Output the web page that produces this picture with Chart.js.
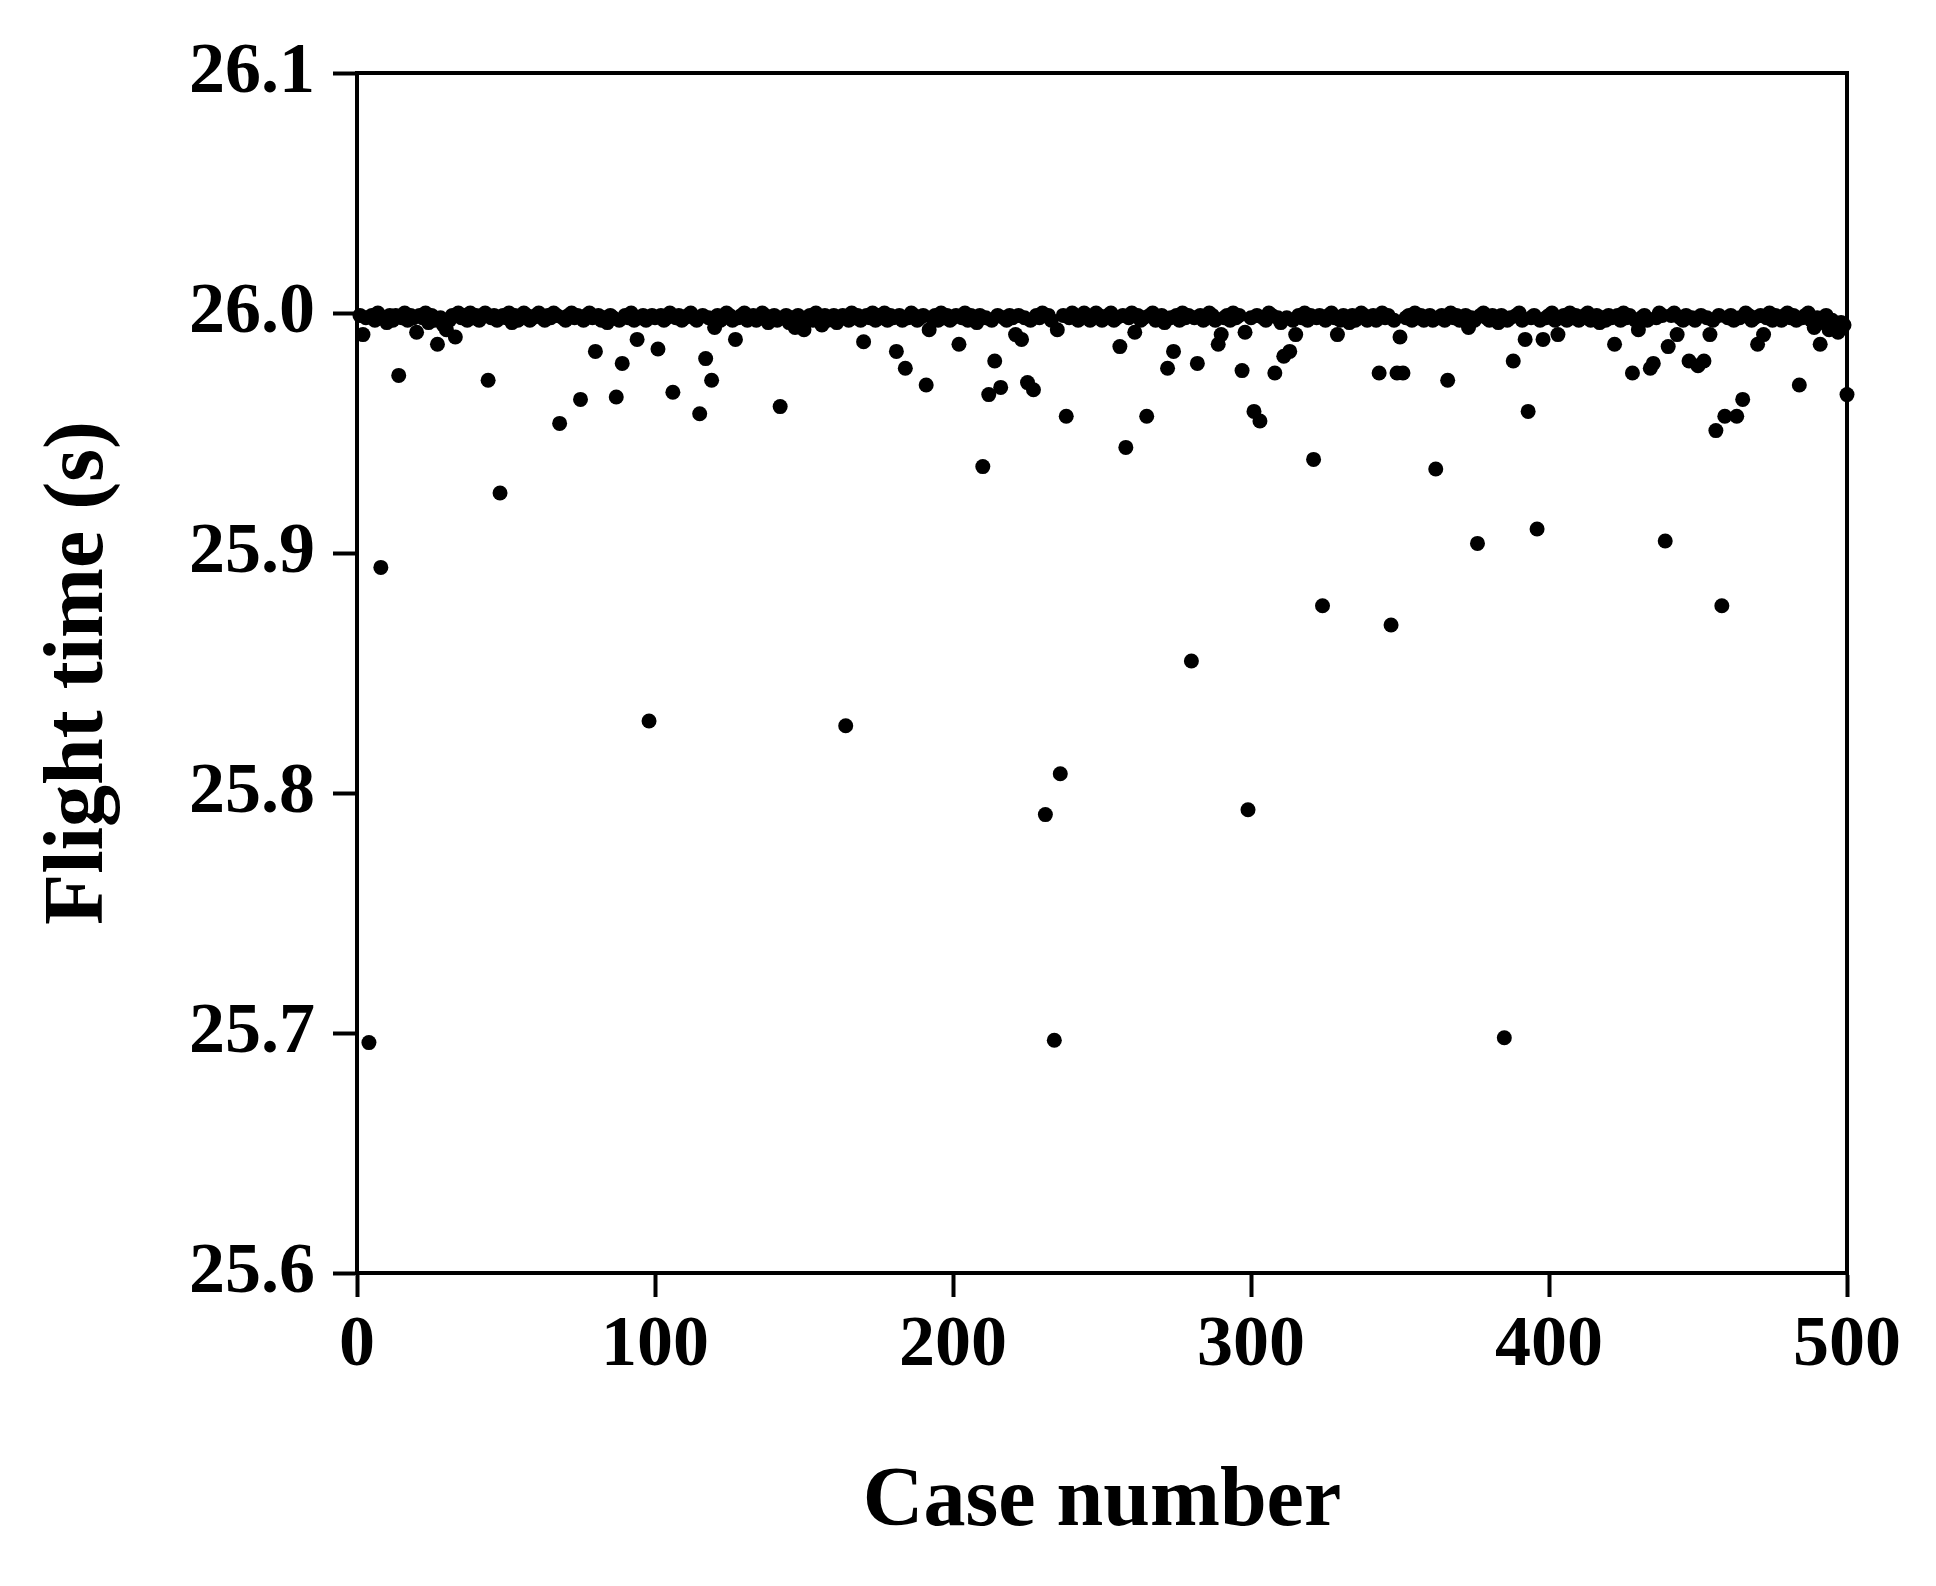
<!DOCTYPE html>
<html>
<head>
<meta charset="utf-8">
<script src="https://cdn.jsdelivr.net/npm/chart.js@4.4.1/dist/chart.umd.min.js"></script>
<style>
  html, body { margin: 0; padding: 0; background: #ffffff; }
  #FlightChart { display: block; }
</style>
</head>
<body>
<canvas id="FlightChart" width="1936" height="1586"></canvas>
<script>
  // flight time of each case, case 1 .. 500 (20 per row)
  const flightTime = [
    25.999, 25.991, 25.998, 25.696, 25.999, 25.997, 26.000, 25.894, 25.998, 25.996, 25.999, 25.997, 25.999, 25.974, 25.998, 26.000, 25.997, 25.999, 25.998, 25.992,
    25.999, 25.998, 26.000, 25.996, 25.999, 25.997, 25.987, 25.998, 25.995, 25.993, 25.997, 25.999, 25.990, 26.000, 25.998, 25.999, 25.997, 26.000, 25.998, 25.999,
    25.997, 25.999, 26.000, 25.972, 25.998, 25.999, 25.997, 25.925, 25.999, 25.998, 26.000, 25.996, 25.999, 25.997, 25.998, 26.000, 25.999, 25.997, 25.998, 25.999,
    26.000, 25.998, 25.997, 25.999, 25.998, 26.000, 25.999, 25.954, 25.998, 25.997, 25.999, 26.000, 25.998, 25.999, 25.964, 25.997, 25.999, 26.000, 25.998, 25.984,
    25.999, 25.997, 25.998, 25.996, 25.999, 25.998, 25.965, 25.997, 25.979, 25.999, 25.998, 26.000, 25.997, 25.989, 25.998, 25.999, 25.997, 25.830, 25.999, 25.998,
    25.985, 25.999, 25.997, 25.998, 26.000, 25.967, 25.998, 25.999, 25.997, 25.998, 25.999, 26.000, 25.998, 25.997, 25.958, 25.999, 25.981, 25.998, 25.972, 25.994,
    25.999, 25.997, 25.998, 26.000, 25.999, 25.997, 25.989, 25.998, 25.999, 26.000, 25.997, 25.998, 25.999, 25.997, 25.998, 26.000, 25.999, 25.996, 25.998, 25.999,
    25.997, 25.961, 25.998, 25.999, 25.996, 25.998, 25.994, 25.999, 25.997, 25.993, 25.998, 25.999, 25.997, 26.000, 25.998, 25.995, 25.999, 25.997, 25.998, 25.999,
    25.996, 25.998, 25.999, 25.828, 25.997, 26.000, 25.998, 25.999, 25.997, 25.988, 25.999, 25.998, 26.000, 25.997, 25.999, 25.998, 26.000, 25.997, 25.999, 25.998,
    25.984, 25.999, 25.997, 25.977, 25.998, 26.000, 25.999, 25.997, 25.998, 25.999, 25.970, 25.993, 25.998, 25.999, 25.997, 26.000, 25.998, 25.999, 25.997, 25.998,
    25.999, 25.987, 25.998, 26.000, 25.997, 25.999, 25.998, 25.996, 25.999, 25.936, 25.998, 25.966, 25.997, 25.980, 25.999, 25.969, 25.998, 25.997, 25.999, 25.998,
    25.991, 25.999, 25.989, 25.998, 25.971, 25.997, 25.968, 25.999, 25.998, 26.000, 25.791, 25.999, 25.997, 25.697, 25.993, 25.808, 25.999, 25.957, 25.998, 26.000,
    25.999, 25.997, 25.998, 26.000, 25.999, 25.997, 25.998, 26.000, 25.999, 25.997, 25.998, 25.999, 26.000, 25.997, 25.998, 25.986, 25.999, 25.944, 25.998, 26.000,
    25.992, 25.999, 25.997, 25.998, 25.957, 25.999, 26.000, 25.997, 25.998, 25.999, 25.996, 25.977, 25.998, 25.984, 25.999, 25.997, 26.000, 25.998, 25.999, 25.855,
    25.998, 25.979, 25.999, 25.997, 25.998, 26.000, 25.999, 25.997, 25.987, 25.991, 25.998, 25.999, 25.997, 26.000, 25.998, 25.999, 25.976, 25.992, 25.793, 25.998,
    25.959, 25.999, 25.955, 25.998, 25.997, 26.000, 25.999, 25.975, 25.998, 25.996, 25.982, 25.998, 25.984, 25.997, 25.991, 25.999, 25.998, 26.000, 25.997, 25.999,
    25.939, 25.998, 25.999, 25.878, 25.997, 25.999, 26.000, 25.998, 25.991, 25.997, 25.999, 25.998, 25.996, 25.999, 25.997, 25.998, 26.000, 25.999, 25.997, 25.998,
    25.999, 25.997, 25.975, 26.000, 25.998, 25.999, 25.870, 25.997, 25.975, 25.990, 25.975, 25.998, 25.999, 25.997, 26.000, 25.998, 25.999, 25.997, 25.998, 25.999,
    25.997, 25.935, 25.998, 25.999, 25.997, 25.972, 26.000, 25.998, 25.999, 25.997, 25.998, 25.999, 25.994, 25.998, 25.997, 25.904, 25.999, 26.000, 25.998, 25.997,
    25.999, 25.998, 25.996, 25.999, 25.698, 25.997, 25.998, 25.980, 25.999, 26.000, 25.997, 25.989, 25.959, 25.998, 25.999, 25.910, 25.997, 25.989, 25.998, 25.999,
    26.000, 25.997, 25.991, 25.998, 25.999, 25.997, 26.000, 25.998, 25.999, 25.997, 25.998, 25.999, 26.000, 25.997, 25.998, 25.999, 25.996, 25.998, 25.997, 25.999,
    25.998, 25.987, 25.999, 25.997, 26.000, 25.998, 25.999, 25.975, 25.997, 25.993, 25.998, 25.999, 25.997, 25.977, 25.979, 25.998, 26.000, 25.999, 25.905, 25.986,
    25.999, 26.000, 25.991, 25.998, 25.997, 25.999, 25.980, 25.998, 25.997, 25.978, 25.999, 25.980, 25.998, 25.991, 25.997, 25.951, 25.999, 25.878, 25.957, 25.998,
    25.999, 25.997, 25.957, 25.998, 25.964, 26.000, 25.999, 25.997, 25.998, 25.987, 25.999, 25.991, 25.998, 26.000, 25.997, 25.999, 25.998, 25.997, 25.999, 26.000,
    25.998, 25.999, 25.997, 25.970, 25.998, 25.999, 26.000, 25.997, 25.994, 25.998, 25.987, 25.996, 25.999, 25.993, 25.997, 25.994, 25.992, 25.996, 25.995, 25.966
  ];
  const caseNumbers = flightTime.map((v, i) => i + 1);

  const xTicks = [0, 100, 200, 300, 400, 500];
  const yTicks = ['25.6', '25.7', '25.8', '25.9', '26.0', '26.1'];

  const serif = "'Liberation Serif', 'Times New Roman', serif";

  const boxPlugin = {
    id: 'boxPlugin',
    beforeDatasetsDraw(chart) {
      const a = chart.chartArea;
      const ctx = chart.ctx;
      ctx.save();
      ctx.strokeStyle = '#000';
      ctx.lineWidth = 4;
      ctx.strokeRect(a.left, a.top, a.right - a.left, a.bottom - a.top);
      ctx.restore();
    }
  };

  const dataFlight = {
    datasets: [{
      label: 'Flight time',
      data: caseNumbers.map((c, i) => ({ x: c, y: flightTime[i] })),
      backgroundColor: '#000',
      borderColor: '#000',
      pointRadius: 7.5,
      pointBorderWidth: 0,
      clip: false
    }]
  };

  const configFlight = {
    type: 'scatter',
    data: dataFlight,
    plugins: [boxPlugin],
    options: {
      responsive: false,
      animation: false,
      layout: { padding: { left: 0, top: 73, right: 89, bottom: 0 } },
      plugins: { legend: { display: false }, tooltip: { enabled: false } },
      scales: {
        x: {
          type: 'linear',
          min: 0,
          max: 500,
          afterFit: (s) => { s.height = 313; },
          afterBuildTicks: (s) => { s.ticks = xTicks.map(v => ({ value: v })); },
          ticks: {
            color: '#000',
            font: { family: serif, size: 72, weight: 'bold' },
            padding: 6,
            maxRotation: 0
          },
          grid: { drawOnChartArea: false, drawTicks: true, tickLength: 24, tickWidth: 4, tickColor: '#000' },
          border: { display: true, color: '#000', width: 4 },
          title: {
            display: true,
            text: 'Case number',
            color: '#000',
            font: { family: serif, size: 84, weight: 'bold', lineHeight: 1.2 },
            padding: { top: 0, bottom: 32 }
          }
        },
        y: {
          type: 'linear',
          min: 25.6,
          max: 26.1,
          afterFit: (s) => { s.width = 357; },
          afterBuildTicks: (s) => { s.ticks = yTicks.map(v => ({ value: parseFloat(v) })); },
          ticks: {
            color: '#000',
            font: { family: serif, size: 72, weight: 'bold' },
            padding: 18,
            callback: (v) => v.toFixed(1)
          },
          grid: { drawOnChartArea: false, drawTicks: true, tickLength: 24, tickWidth: 4, tickColor: '#000' },
          border: { display: true, color: '#000', width: 4 },
          title: {
            display: true,
            text: 'Flight time (s)',
            color: '#000',
            font: { family: serif, size: 84, weight: 'bold', lineHeight: 1.2 },
            padding: { top: 30, bottom: 0 }
          }
        }
      }
    }
  };

  const flightChart = new Chart(
    document.getElementById('FlightChart'),
    configFlight
  );
</script>
</body>
</html>
